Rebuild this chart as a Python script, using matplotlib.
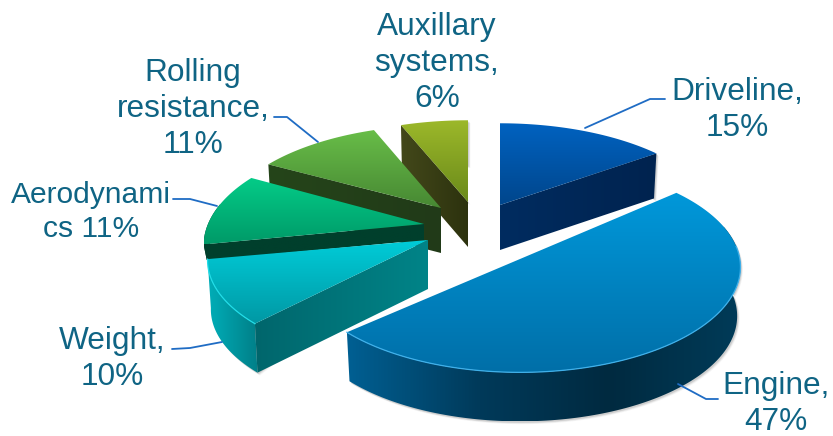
import numpy as np
import matplotlib
matplotlib.use('Agg')
import matplotlib.pyplot as plt
from matplotlib.colors import LinearSegmentedColormap
from matplotlib.patches import Polygon

# share of energy use, clockwise from the top
names = ['Driveline', 'Engine', 'Weight', 'Aerodynamics', 'Rolling resistance', 'Auxillary systems']
shares = [15, 47, 10, 11, 11, 6]
label_texts = ['Driveline,\n15%', 'Engine,\n47%', 'Weight,\n10%', 'Aerodynami\ncs 11%',
               'Rolling\nresistance,\n11%', 'Auxillary\nsystems,\n6%']
label_sizes = [22.8, 22.8, 22.8, 21.6, 22.8, 22.8]

# slice geometry in pixels: apex, tilt of the disc, wall height
apex = [(500, 205), (520, 246), (428, 240), (424, 224), (441, 208), (468, 202)]
tilt = [0.454, 0.468, 0.454, 0.485, 0.46, 0.454]
wall = [45, 49, 49, 16, 45, 45]
RADIUS = 216
PERSP = 0.2
# the big slice has a straight cut edge, no corner at its apex
straight_chord = [False, True, False, False, False, False]

top_colors = [('#0062c0', '#00468c'), ('#0098da', '#006fa8'), ('#00ccd8', '#0098a4'),
              ('#04cc88', '#009a68'), ('#68bd48', '#478833'), ('#9cb82a', '#6a8a1a')]
cut_colors = [('#00234f', '#002c60'), (None, None), ('#00666c', '#008488'),
              ('#003f2c', '#003f2c'), ('#25451a', '#213a18'), ('#43481a', '#2c320e')]
side_colors = [('#002a5c', '#002a5c'), ('#005f92', '#003a5a', '#002a40', '#003b58'),
               ('#00aeb8', '#007f88'), ('#003f2c', '#003f2c'), ('#25451a', '#25451a'),
               ('#3a3f14', '#3a3f14')]
rim_light = [None, '#3fb0ea', '#20dde8', None, None, None]

# back slices first so the nearer ones paint over them
draw_order = [5, 4, 3, 0, 2, 1]

leaders = [([585, 650, 665], [128, 99, 99]), ([678, 706, 718], [384, 399, 399]),
           ([222, 190, 172], [342, 348, 349]), ([217, 190, 173], [206, 199, 199]),
           ([318, 287, 274], [142, 117, 117])]
label_pos = [(737, 110), (776, 404), (112, 359), (91, 212), (193, 109), (437, 63)]

fig = plt.figure(figsize=(8.33, 4.36), dpi=100)
ax = fig.add_axes([0, 0, 1, 1])


def project(i, t):
    # t in radians, measured anticlockwise from the right, on the tilted disc
    s = -np.sin(t)
    w = 1 - PERSP * s
    return (apex[i][0] + RADIUS * np.cos(t) / w,
            apex[i][1] + RADIUS * tilt[i] * s / w)


def drop(i, x, y):
    # same outline at the foot of the wall
    return (apex[i][0] + (np.asarray(x) - apex[i][0]) * 0.985,
            np.asarray(y) + wall[i])


def fill(xs, ys, colors, horizontal, z):
    cmap = LinearSegmentedColormap.from_list('g', list(colors))
    grad = np.linspace(0, 1, 128)
    grad = grad[None, :] if horizontal else grad[:, None]
    im = ax.imshow(grad, cmap=cmap, aspect='auto', interpolation='bilinear', zorder=z,
                   extent=(min(xs), max(xs), max(ys), min(ys)))
    patch = Polygon(np.column_stack([xs, ys]), closed=True, transform=ax.transData,
                    fc='none', ec='none')
    ax.add_patch(patch)
    im.set_clip_path(patch)


fractions = np.array(shares) / sum(shares)
edges = np.pi / 2 - 2 * np.pi * np.concatenate([[0], np.cumsum(fractions)])

z = 2
for i in draw_order:
    t0, t1 = edges[i], edges[i + 1]
    mid = (t0 + t1) / 2
    ts = np.linspace(t0, t1, 160)
    rx, ry = project(i, ts)
    ax_, ay_ = apex[i]
    head_x = [] if straight_chord[i] else [ax_]
    head_y = [] if straight_chord[i] else [ay_]

    # outline of the whole solid, used for the soft shadow behind it
    bx, by = drop(i, rx, ry)
    sx = np.concatenate([head_x, rx, bx[::-1]])
    sy = np.concatenate([head_y, ry, by[::-1]])
    for off, alpha in [(4, 0.06), (3, 0.1), (2, 0.16)]:
        ax.fill(sx + off * 0.6, sy + off * 0.7, color='#555555', alpha=alpha, lw=0, zorder=z)
    z += 1

    # outer wall; perspective moves the silhouette point slightly behind the widest part
    front = -np.sin(ts) > -PERSP
    if front.any():
        wx, wy = rx[front], ry[front]
        fx, fy = drop(i, wx, wy)
        fill(np.concatenate([wx, fx[::-1]]), np.concatenate([wy, fy[::-1]]),
             side_colors[i], True, z)
        z += 1

    # flat cut face along whichever radial edge points towards the viewer
    mx, my = project(i, mid)
    for tt in (t0, t1):
        ex, ey = project(i, tt)
        nx, ny = -(ey - ay_), ex - ax_
        if nx * (mx - ax_) + ny * (my - ay_) > 0:
            nx, ny = -nx, -ny
        if ny / np.hypot(nx, ny) > 0.05 and cut_colors[i][0]:
            cx = [ax_, ex]
            cy = [ay_, ey]
            dx, dy = drop(i, cx, cy)
            order = [0, 1] if ex > ax_ else [1, 0]
            colors = cut_colors[i] if ex < ax_ else cut_colors[i][::-1]
            px = [cx[order[0]], cx[order[1]], dx[order[1]], dx[order[0]]]
            py = [cy[order[0]], cy[order[1]], dy[order[1]], dy[order[0]]]
            fill(px, py, colors, True, z)
            z += 1

    # top face
    fill(np.concatenate([head_x, rx]), np.concatenate([head_y, ry]), top_colors[i], False, z)
    z += 1
    if rim_light[i] and front.any():
        lit = -np.sin(ts) > 0
        ax.plot(rx[lit], ry[lit], color=rim_light[i], lw=0.9, zorder=z)
        z += 1

for (lx, ly) in leaders:
    ax.plot(lx, ly, color='#1f6cc4', lw=1.3, zorder=z, solid_capstyle='round')

for (px, py), txt, size in zip(label_pos, label_texts, label_sizes):
    ax.text(px, py, txt, ha='center', va='center', ma='center', color='#0f6484', fontsize=size,
            family='Liberation Sans', linespacing=1.25, zorder=z + 1)

ax.set_xlim(0, 833)
ax.set_ylim(436, 0)
ax.axis('off')
fig.savefig('out.png', dpi=100, facecolor='white')
